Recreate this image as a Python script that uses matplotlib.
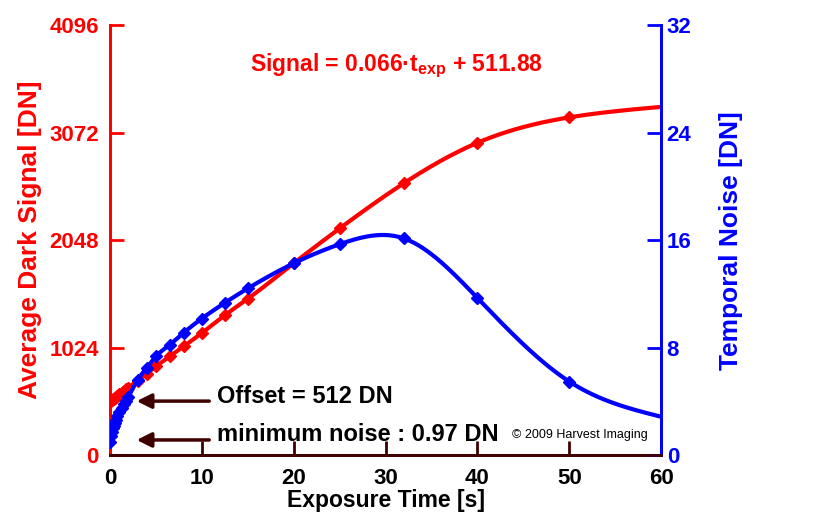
import numpy as np
import matplotlib
matplotlib.use('Agg')
import matplotlib.pyplot as plt

# measured points (exposure time in s)
t_exp = [0, 0.1, 0.2, 0.3, 0.4, 0.5, 0.6, 0.8, 1.0, 1.25, 1.5, 1.75, 2, 3, 4, 5,
         6.5, 8, 10, 12.5, 15, 20, 25, 32, 40, 50]
signal = [512, 519, 525, 532, 538, 545, 552, 565, 578, 595, 611, 628, 644, 710, 776, 845,
          941, 1036, 1164, 1333, 1490, 1828, 2160, 2591, 2976, 3218]
noise = [0.97, 1.45, 1.75, 2.0, 2.2, 2.4, 2.6, 2.9, 3.2, 3.5, 3.8, 4.05, 4.35, 5.6, 6.5, 7.35,
         8.22, 9.1, 10.17, 11.34, 12.41, 14.28, 15.7, 16.13, 11.7, 5.48]
# curve end values (no marker)
t_end = 60
signal_end = 3318
noise_end = 2.86

RED = '#ff0000'
BLUE = '#0000ff'
DARK = '#3f0000'

plt.rcParams['font.family'] = 'Liberation Sans'
plt.rcParams['font.weight'] = 'bold'
plt.rcParams['mathtext.fontset'] = 'custom'
plt.rcParams['mathtext.rm'] = 'Liberation Sans:bold'
plt.rcParams['mathtext.it'] = 'Liberation Sans:bold'
plt.rcParams['mathtext.bf'] = 'Liberation Sans:bold'


def spline(x, y, xs):
    # natural cubic spline through the points
    x = np.asarray(x, float)
    y = np.asarray(y, float)
    n = len(x)
    h = np.diff(x)
    A = np.zeros((n, n))
    r = np.zeros(n)
    A[0, 0] = A[-1, -1] = 1
    for i in range(1, n - 1):
        A[i, i - 1] = h[i - 1]
        A[i, i] = 2 * (h[i - 1] + h[i])
        A[i, i + 1] = h[i]
        r[i] = 6 * ((y[i + 1] - y[i]) / h[i] - (y[i] - y[i - 1]) / h[i - 1])
    M = np.linalg.solve(A, r)
    i = np.clip(np.searchsorted(x, xs) - 1, 0, n - 2)
    a = (x[i + 1] - xs) / h[i]
    b = (xs - x[i]) / h[i]
    return a * y[i] + b * y[i + 1] + ((a ** 3 - a) * M[i] + (b ** 3 - b) * M[i + 1]) * h[i] ** 2 / 6


fig = plt.figure(figsize=(8.4, 5.25), dpi=100)
ax = fig.add_axes([0.131, 0.133, 0.656, 0.819])
ax2 = ax.twinx()

xs = np.linspace(0, t_end, 1200)
ax.plot(xs, spline(t_exp + [t_end], signal + [signal_end], xs), color=RED, lw=3, zorder=2)
ax.plot(t_exp, signal, 'D', color=RED, ms=6, zorder=3)
ax2.plot(xs, spline(t_exp + [t_end], noise + [noise_end], xs), color=BLUE, lw=3, zorder=2)
ax2.plot(t_exp, noise, 'D', color=BLUE, ms=6, zorder=3)

ax.set_xlim(0, 60)
ax.set_ylim(0, 4096)
ax2.set_ylim(0, 32)
ax.set_xticks([0, 10, 20, 30, 40, 50, 60])
ax.set_yticks([0, 1024, 2048, 3072, 4096])
ax2.set_yticks([0, 8, 16, 24, 32])

for a in (ax, ax2):
    a.spines['top'].set_visible(False)
    a.spines['left'].set_color(RED)
    a.spines['right'].set_color(BLUE)
    a.spines['bottom'].set_color(DARK)
    for s in a.spines.values():
        s.set_linewidth(2)

ax.tick_params(axis='x', direction='in', length=10, width=2, color=DARK,
               labelsize=16, labelcolor='black', pad=9)
ax.tick_params(axis='y', direction='in', length=10, width=2, color=RED,
               labelsize=16, labelcolor=RED, pad=8)
ax2.tick_params(axis='y', direction='in', length=10, width=2, color=BLUE,
                labelsize=16, labelcolor=BLUE, pad=4)

ax.set_xlabel('Exposure Time [s]', fontsize=16.5, fontweight='bold', labelpad=0)
ax.set_ylabel('Average Dark Signal [DN]', fontsize=19, fontweight='bold', color=RED, labelpad=5)
ax2.set_ylabel('Temporal Noise [DN]', fontsize=19, fontweight='bold', color=BLUE, labelpad=20)

ax.text(0.52, 0.905, 'Signal = 0.066·t$_{\\mathrm{exp}}$ + 511.88', transform=ax.transAxes,
        ha='center', va='center', fontsize=16.5, fontweight='bold', color=RED)

arrow = dict(arrowstyle='-|>', color=DARK, lw=2.5, mutation_scale=22, shrinkA=0, shrinkB=0)
ax.annotate('', xy=(2.9, 515), xytext=(10.8, 515), arrowprops=arrow)
ax.annotate('', xy=(2.9, 145), xytext=(10.8, 145), arrowprops=arrow)
ax.text(11.7, 555, 'Offset = 512 DN', fontsize=17, fontweight='bold', color='black', va='center')
ax.text(11.7, 195, 'minimum noise : 0.97 DN', fontsize=17, fontweight='bold', color='black', va='center')
ax.text(43.8, 190, '© 2009 Harvest Imaging', fontsize=9, fontweight='normal', color='black', va='center')

fig.savefig('out.png', dpi=100)
